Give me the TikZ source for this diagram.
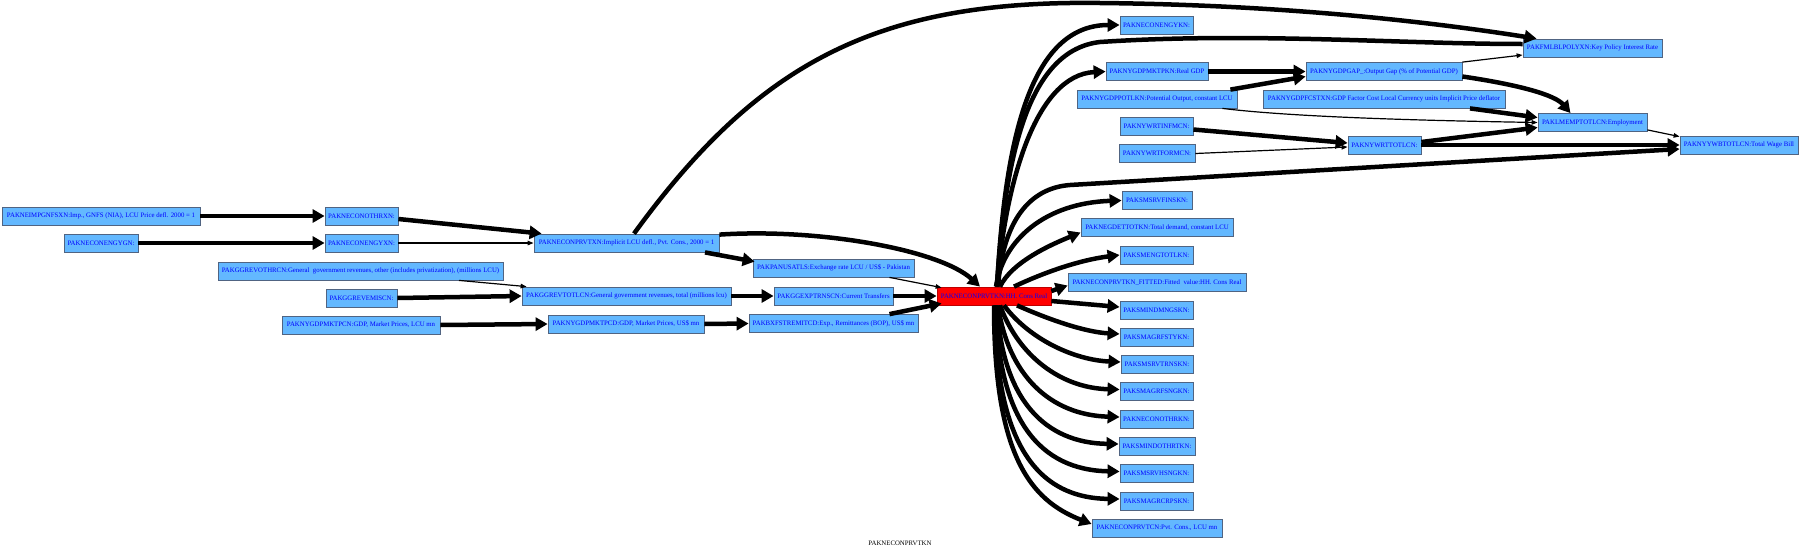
\documentclass[tikz,border=0pt]{standalone}
\usepackage{fontspec}
\setmainfont{Liberation Serif}
\usetikzlibrary{arrows.meta}
\definecolor{boxfill}{RGB}{99,184,255}
\definecolor{boxline}{RGB}{80,100,130}
\definecolor{txtblue}{RGB}{0,0,255}
\definecolor{redline}{RGB}{190,0,0}
\begin{document}
\begin{tikzpicture}[x=1pt,y=-1pt,
  nd/.style={draw=boxline, line width=0.8pt, fill=boxfill, text=txtblue, font=\fontsize{6.8}{8}\selectfont, minimum height=18pt, inner xsep=1.5pt, inner ysep=0pt},
  rn/.style={nd, fill=red, draw=redline},
  thk/.style={line width=4.5pt, -{Triangle[length=12pt,width=13pt]}},
  thn/.style={line width=1.2pt, -{Triangle[length=6pt,width=4.5pt]}},
  ln/.style={line width=4.5pt},
]
\useasboundingbox (0,0) rectangle (1800,552);
% left ranks
\node[nd, minimum width=198pt] (n1) at (101,216) {PAKNEIMPGNFSXN:Imp., GNFS (NIA), LCU Price defl. 2000 = 1};
\node[nd, minimum width=73pt] (n2) at (361.5,216) {PAKNECONOTHRXN:};
\node[nd, minimum width=74pt] (n3) at (101,243) {PAKNECONENGYGN:};
\node[nd, minimum width=73pt] (n4) at (361.5,243) {PAKNECONENGYXN:};
\node[nd, minimum width=285pt] (n5) at (360.5,271) {PAKGGREVOTHRCN:General\ \ government revenues, other (includes privatization), (millions LCU)};
\node[nd, minimum width=71pt] (n6) at (361.5,298) {PAKGGREVEMISCN:};
\node[nd, minimum width=158pt] (n7) at (361,325) {PAKNYGDPMKTPCN:GDP, Market Prices, LCU mn};
\node[nd, minimum width=185pt] (n8) at (626.5,243) {PAKNECONPRVTXN:Implicit LCU defl., Pvt. Cons., 2000 = 1};
\node[nd, minimum width=209pt] (n9) at (626.5,296) {PAKGGREVTOTLCN:General government revenues, total (millions lcu)};
\node[nd, minimum width=156pt] (n10) at (626,324) {PAKNYGDPMKTPCD:GDP, Market Prices, US\$ mn};
\node[nd, minimum width=161pt] (n11) at (833.5,268) {PAKPANUSATLS:Exchange rate LCU / US\$ - Pakistan};
\node[nd, minimum width=119pt] (n12) at (833.5,296) {PAKGGEXPTRNSCN:Current Transfers};
\node[nd, minimum width=169pt] (n13) at (833.5,323.5) {PAKBXFSTREMITCD:Exp., Remittances (BOP), US\$ mn};
\node[rn, minimum width=114pt] (red) at (994,296) {PAKNECONPRVTKN:HH. Cons Real};
% right column
\node[nd, minimum width=73pt] (engykn) at (1156.5,25) {PAKNECONENGYKN:};
\node[nd, minimum width=102pt] (gdpkn) at (1157,71.5) {PAKNYGDPMKTPKN:Real GDP};
\node[nd, minimum width=160pt] (potl) at (1157,99) {PAKNYGDPPOTLKN:Potential Output, constant LCU};
\node[nd, minimum width=73pt] (infm) at (1156.5,126.5) {PAKNYWRTINFMCN:};
\node[nd, minimum width=76pt] (form) at (1157,153.5) {PAKNYWRTFORMCN:};
\node[nd, minimum width=70pt] (finskn) at (1157,200.5) {PAKSMSRVFINSKN:};
\node[nd, minimum width=152pt] (gdet) at (1157,227.5) {PAKNEGDETTOTKN:Total demand, constant LCU};
\node[nd, minimum width=73pt] (engtot) at (1156.5,255) {PAKSMENGTOTLKN:};
\node[nd, minimum width=178pt] (fitted) at (1157,282.5) {PAKNECONPRVTKN\_FITTED:Fitted\ \ value:HH. Cons Real};
\node[nd, minimum width=73pt] (mngskn) at (1156.5,310) {PAKSMINDMNGSKN:};
\node[nd, minimum width=73pt] (fstykn) at (1156.5,337) {PAKSMAGRFSTYKN:};
\node[nd, minimum width=72pt] (trnskn) at (1157,364) {PAKSMSRVTRNSKN:};
\node[nd, minimum width=73pt] (fsngkn) at (1156.5,391.5) {PAKSMAGRFSNGKN:};
\node[nd, minimum width=73pt] (othrkn) at (1156.5,419) {PAKNECONOTHRKN:};
\node[nd, minimum width=76pt] (othrtkn) at (1157,446) {PAKSMINDOTHRTKN:};
\node[nd, minimum width=73pt] (hsngkn) at (1156.5,473.5) {PAKSMSRVHSNGKN:};
\node[nd, minimum width=73pt] (crpskn) at (1156.5,501) {PAKSMAGRCRPSKN:};
\node[nd, minimum width=130pt] (prvtcn) at (1157,528) {PAKNECONPRVTCN:Pvt. Cons., LCU mn};
% further ranks
\node[nd, minimum width=156pt] (gap) at (1384,71.5) {PAKNYGDPGAP\_:Output Gap (\% of Potential GDP)};
\node[nd, minimum width=242pt] (fcst) at (1384,99) {PAKNYGDPFCSTXN:GDP Factor Cost Local Currency units Implicit Price deflator};
\node[nd, minimum width=73pt] (wrtt) at (1384.5,145) {PAKNYWRTTOTLCN:};
\node[nd, minimum width=139pt] (pol) at (1592.5,48) {PAKFMLBLPOLYXN:Key Policy Interest Rate};
\node[nd, minimum width=109pt] (emp) at (1592.5,122.5) {PAKLMEMPTOTLCN:Employment};
\node[nd, minimum width=118pt] (wage) at (1739,145) {PAKNYYWBTOTLCN:Total Wage Bill};
\node[font=\fontsize{6.8}{8}\selectfont, text=black] (title) at (900,543) {PAKNECONPRVTKN};

% left edges
\draw[thk] (n1.east) -- (n2.west);
\draw[thk] (n3.east) -- (n4.west);
\draw[thk] ([yshift=-3pt]n2.east) -- ([xshift=8pt]n8.north west);
\draw[thn] (n4.east) -- (n8.west);
\draw[thn] ([xshift=98.5pt]n5.south) -- ([xshift=5pt]n9.north west);
\draw[thk] (n6.east) -- (n9.west);
\draw[thk] (n7.east) -- (n10.west);
\draw[thk] ([xshift=78.5pt]n8.south) -- ([xshift=2pt,yshift=-3pt]n11.north west);
\draw[thk] ([yshift=-1pt]n8.north east) .. controls (820,228) and (940,250) .. ([xshift=-14pt]red.north);
\draw[thk] ([xshift=7.5pt]n8.north) .. controls (760,60) and (880,0) .. (1100,3) .. controls (1300,5) and (1450,25) .. ([xshift=14pt]pol.north west);
\draw[thk] (n9.east) -- (n12.west);
\draw[thk] (n10.east) -- (n13.west);
\draw[thn] ([xshift=56pt]n11.south) -- ([xshift=5pt,yshift=-1pt]red.north west);
\draw[thk] (n12.east) -- (red.west);
\draw[thk] ([xshift=56pt]n13.north) -- ([xshift=5pt,yshift=2pt]red.south west);

% edges out of the red node
\draw[thk] ([xshift=3pt]red.north) .. controls (1005,140) and (1030,25) .. (engykn.west);
\draw[ln] ([xshift=3pt]red.north) .. controls (1005,150) and (1030,50) .. (1100,42) .. controls (1250,32) and (1400,44) .. ([yshift=4pt]pol.west);
\draw[thk] ([xshift=3pt]red.north) .. controls (1005,185) and (1035,75) .. (gdpkn.west);
\draw[thk] ([xshift=4pt]red.north) .. controls (1003,220) and (1030,188) .. (1070,185) -- ([yshift=-4pt]wage.west);
\draw[thk] ([xshift=2pt]red.north) .. controls (1003,240) and (1045,203) .. (finskn.west);
\draw[thk] ([xshift=6pt]red.north) .. controls (1012,262) and (1050,245) .. ([yshift=-5pt]gdet.west);
\draw[thk] ([xshift=20pt]red.north) .. controls (1045,272) and (1080,260) .. (engtot.west);
\draw[thk] ([yshift=5pt]red.east) -- ([yshift=-3pt]fitted.west);
\draw[thk] ([yshift=-5pt]red.east) -- ([yshift=3pt]mngskn.west);
\draw[thk] ([xshift=23pt]red.south) .. controls (1050,320) and (1085,332) .. ([yshift=3pt]fstykn.west);
\draw[thk] ([xshift=10pt]red.south) .. controls (1030,340) and (1075,360) .. ([yshift=2pt]trnskn.west);
\draw[thk] ([xshift=6pt]red.south) .. controls (1018,355) and (1060,388) .. ([yshift=2pt]fsngkn.west);
\draw[thk] ([xshift=4pt]red.south) .. controls (1008,375) and (1050,415) .. ([yshift=2pt]othrkn.west);
\draw[thk] ([xshift=3pt]red.south) .. controls (1002,400) and (1045,443) .. ([yshift=2pt]othrtkn.west);
\draw[thk] ([xshift=2pt]red.south) .. controls (998,420) and (1040,470) .. ([yshift=2pt]hsngkn.west);
\draw[thk] ([xshift=1pt]red.south) .. controls (995,440) and (1035,498) .. ([yshift=2pt]crpskn.west);
\draw[thk] (red.south) .. controls (994,455) and (1030,500) .. ([yshift=4pt]prvtcn.west);

% upper right edges
\draw[thk] (gdpkn.east) -- (gap.west);
\draw[thk] ([xshift=-7pt]potl.north east) -- ([yshift=-5pt]gap.west);
\draw[thn] ([xshift=-15pt]potl.south east) .. controls (1300,118) and (1450,121) .. (emp.west);
\draw[thn] (gap.north east) -- ([yshift=-7pt]pol.west);
\draw[thk] ([yshift=-5pt]gap.east) .. controls (1520,85) and (1555,95) .. ([xshift=-22pt]emp.north);
\draw[thk] ([xshift=86pt]fcst.south) -- ([yshift=5pt]emp.west);
\draw[thk] ([yshift=-3pt]infm.east) -- ([yshift=2pt]wrtt.west);
\draw[thn] (form.east) -- ([yshift=-2pt]wrtt.west);
\draw[thk] ([yshift=3pt]wrtt.east) -- ([yshift=-5pt]emp.west);
\draw[thk] (wrtt.east) -- (wage.west);
\draw[thn] ([yshift=2pt]emp.south east) -- ([yshift=-1pt]wage.north west);
\end{tikzpicture}
\end{document}
